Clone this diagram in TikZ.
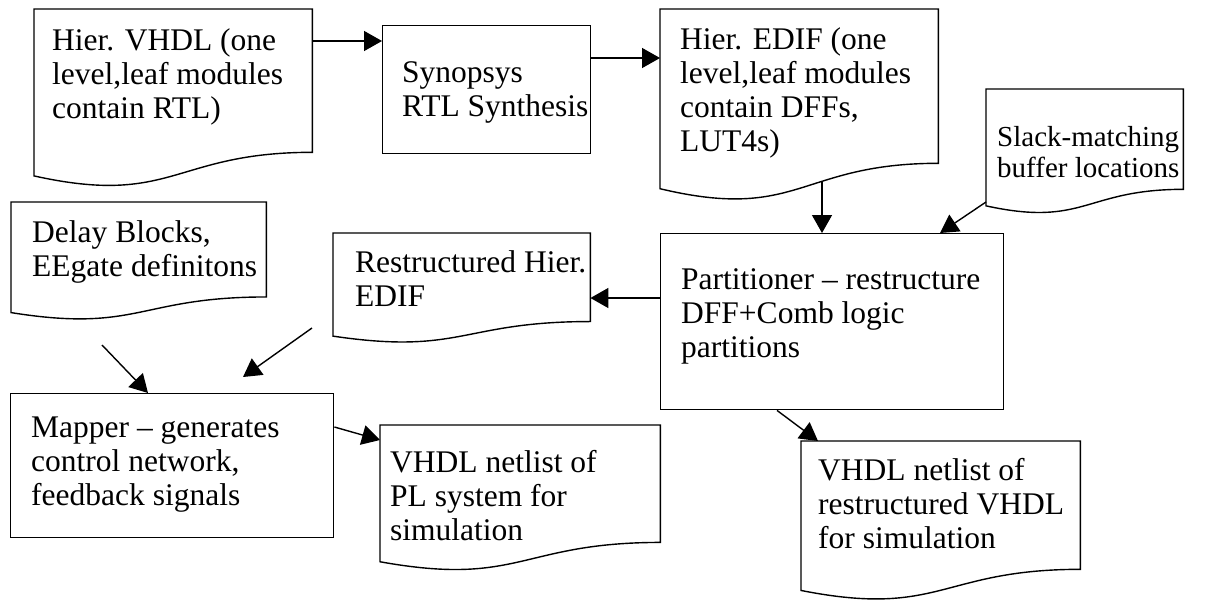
\documentclass[tikz,border=0pt]{standalone}
\usepackage{fontspec}
\setmainfont{Liberation Serif}
\usetikzlibrary{calc,arrows.meta}

% multi-line text whose reference point is the baseline of its first line
\newcommand\txtlines[1]{\parbox[t]{420pt}{\raggedright #1}}

% flowchart "document" outline drawn over a named rectangular area
\newcommand\docshape[1]{%
  \draw[strokeline] (#1.north west) -- (#1.north east)
    -- ($(#1.north east)!0.802!(#1.south east)$)
    .. controls ($(#1.north)!0.802!(#1.south)$) and ($(#1.north)!1.107!(#1.south)$)
    .. ($(#1.north west)!0.934!(#1.south west)$) -- cycle;}

\begin{document}
\begin{tikzpicture}[x=1pt,y=-1pt,
  strokeline/.style={draw=black,line width=1.4pt},
  boxframe/.style={strokeline,rectangle,inner sep=0pt,anchor=north west},
  docarea/.style={rectangle,inner sep=0pt,anchor=north west},
  txt/.style={anchor=base west,inner sep=0pt,font=\fontsize{31.5pt}{34pt}\selectfont},
  smalltxt/.style={txt,font=\fontsize{29pt}{31.5pt}\selectfont},
  arr/.style={line width=1.4pt,-{Triangle[length=18pt,width=20pt]}}]

\useasboundingbox[fill=white] (0,0) rectangle (1215,600);

% document-shaped areas
\node[docarea,minimum width=278pt,minimum height=178.3pt] (doc1)  at (34,9) {};
\node[docarea,minimum width=278pt,minimum height=192pt]   (doc3)  at (660,9) {};
\node[docarea,minimum width=197pt,minimum height=124.7pt] (slack) at (986,89) {};
\node[docarea,minimum width=257pt,minimum height=110pt]   (restr) at (333,233) {};
\node[docarea,minimum width=255pt,minimum height=118pt]   (delay) at (11,202) {};
\node[docarea,minimum width=280pt,minimum height=146pt]   (pl)    at (380,425) {};
\node[docarea,minimum width=279pt,minimum height=159.6pt] (doc4)  at (801,441) {};
\docshape{doc1}
\docshape{doc3}
\docshape{slack}
\docshape{restr}
\docshape{delay}
\docshape{pl}
\docshape{doc4}

% process boxes
\node[boxframe,minimum width=208pt,minimum height=128pt] (syn)  at (382,25) {};
\node[boxframe,minimum width=343pt,minimum height=176pt] (part) at (660,233) {};
\node[boxframe,minimum width=323pt,minimum height=144pt] (map)  at (10,393) {};

% texts
\node[txt] (tdoc1)  at ($(doc1.north west)+(18,41)$)  {\txtlines{Hier. VHDL (one\\level,leaf modules\\contain RTL)}};
\node[txt] (tsyn)   at ($(syn.north west)+(20,57)$)   {\txtlines{Synopsys\\RTL Synthesis}};
\node[txt] (tdoc3)  at ($(doc3.north west)+(20,40)$)  {\txtlines{Hier. EDIF (one\\level,leaf modules\\contain DFFs,\\LUT4s)}};
\node[smalltxt] (tslack) at ($(slack.north west)+(11,57)$) {\txtlines{Slack-matching\\buffer locations}};
\node[txt] (trestr) at ($(restr.north west)+(22,39)$) {\txtlines{Restructured Hier.\\EDIF}};
\node[txt] (tdelay) at ($(delay.north west)+(21,40)$) {\txtlines{Delay Blocks,\\EEgate definitons}};
\node[txt] (tpart)  at ($(part.north west)+(21,56)$)  {\txtlines{Partitioner -- restructure\\DFF+Comb logic\\partitions}};
\node[txt] (tmap)   at ($(map.north west)+(21,44)$)   {\txtlines{Mapper -- generates\\control network,\\feedback signals}};
\node[txt] (tpl)    at ($(pl.north west)+(10,47)$)    {\txtlines{VHDL netlist of\\PL system for\\simulation}};
\node[txt] (tdoc4)  at ($(doc4.north west)+(17,39)$)  {\txtlines{VHDL netlist of\\restructured VHDL\\for simulation}};

% connectors
\draw[arr] ($(doc1.north east)+(0,32)$) -- ($(syn.north west)+(0,16)$);
\draw[arr] ($(syn.north east)+(0,33)$) -- ($(doc3.north west)+(0,49)$);
\draw[arr] ($(doc3.north west)+(162,173)$) -- ($(part.north west)+(162,0)$);
\draw[arr] ($(slack.north west)+(0,113)$) -- ($(part.north west)+(280,0)$);
\draw[arr] ($(part.north west)+(0,65)$) -- ($(restr.north east)+(0,65)$);
\coordinate (delayout) at ($(delay.north west)+(91,143)$);
\draw[arr] (delayout) -- ($(map.north west)+(138,0)$);
\coordinate (restrout) at ($(restr.north west)+(-21,95)$);
\coordinate (mapin) at ($(map.north west)+(233,-16)$);
\draw[arr] (restrout) -- (mapin);
\draw[arr] ($(map.north east)+(0,34)$) -- ($(pl.north west)+(0,15)$);
\draw[arr] ($(part.south west)+(117,0)$) -- ($(doc4.north west)+(17,0)$);
\end{tikzpicture}
\end{document}
